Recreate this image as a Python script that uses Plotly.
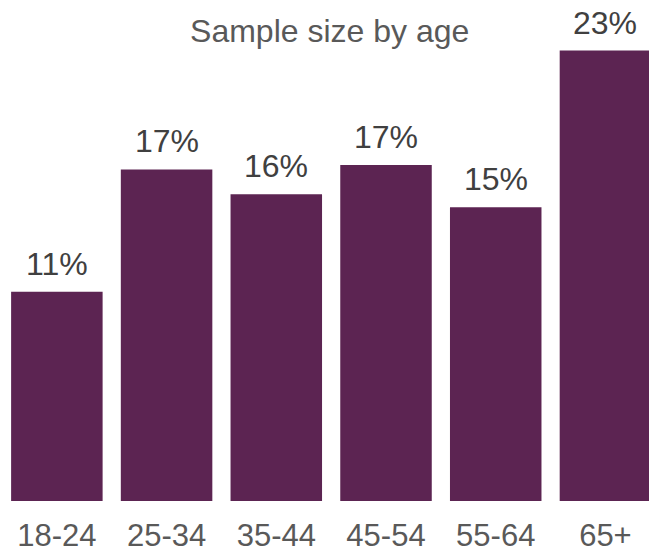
import plotly.graph_objects as go

categories = ["18-24", "25-34", "35-44", "45-54", "55-64", "65+"]
values = [10.68, 16.93, 15.66, 17.15, 15.0, 23.0]
labels = ["11%", "17%", "16%", "17%", "15%", "23%"]
title_text = "Sample size by age"

bar_color = "#5C2452"
font_family = "Liberation Sans, Arial, sans-serif"

fig = go.Figure()
fig.add_trace(go.Bar(x=categories, y=values, marker=dict(color=bar_color, line=dict(width=0)),
                     hoverinfo="skip"))

for c, v, t in zip(categories, values, labels):
    fig.add_annotation(x=c, y=v, text=t, showarrow=False, yanchor="bottom",
                       yshift=8, font=dict(family=font_family, size=32, color="#404040"))

fig.update_layout(
    width=649, height=553,
    margin=dict(l=2.4, r=0, t=40, b=50),
    paper_bgcolor="white", plot_bgcolor="white",
    bargap=0.166,
    showlegend=False,
    title=dict(text=title_text, x=0.508, xanchor="center", y=1 - 31 / 553, yanchor="middle",
               yref="container", font=dict(family=font_family, size=32, color="#595959")),
    xaxis=dict(range=[-0.5, 5.397], showgrid=False, zeroline=False, showline=False,
               ticks="", ticklabelstandoff=13,
               tickfont=dict(family=font_family, size=31, color="#595959")),
    yaxis=dict(range=[0, 463 / 19.67], visible=False, showgrid=False, zeroline=False),
)

fig.write_html("out.html")
